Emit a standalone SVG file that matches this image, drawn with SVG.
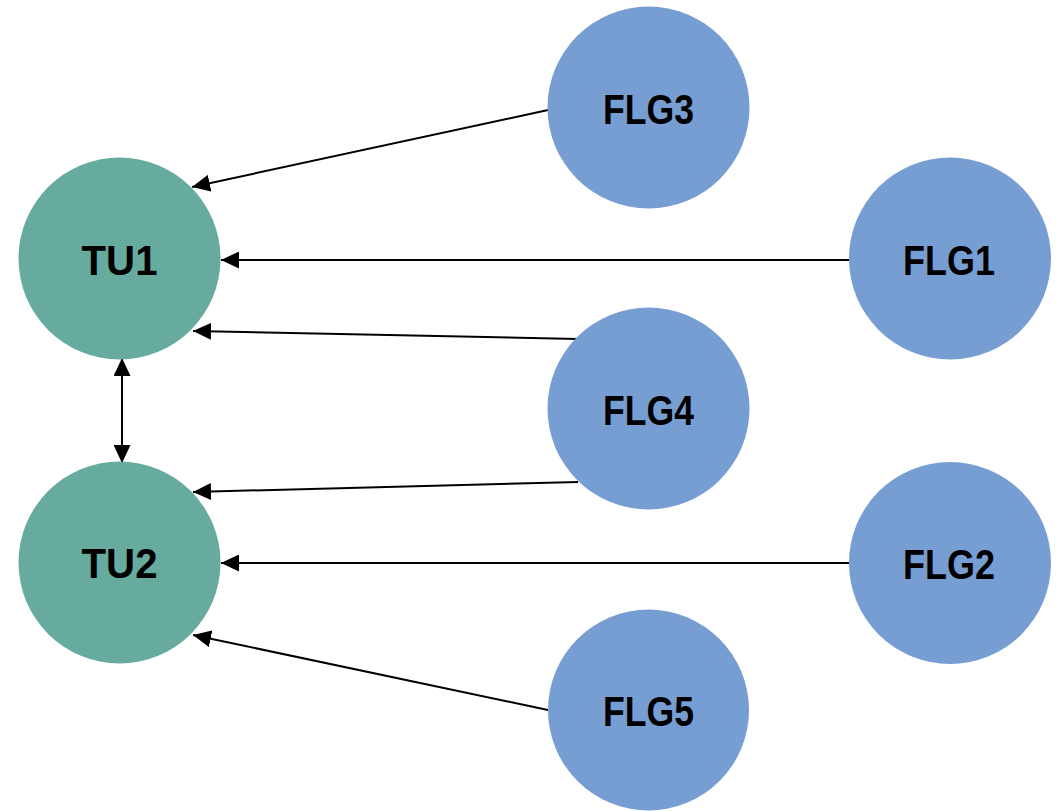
<svg xmlns="http://www.w3.org/2000/svg" width="1063" height="811" viewBox="0 0 1063 811">
<style>
.tu{fill:#67AB9F}
.flg{fill:#779ED3}
.lbl{font-family:"Liberation Sans",Arial,sans-serif;font-weight:bold;font-size:43px;fill:#000;text-anchor:middle}
.edge{stroke:#000;stroke-width:2;fill:none;marker-end:url(#arr)}
</style>
<defs>
<marker id="arr" markerUnits="userSpaceOnUse" markerWidth="18" markerHeight="17" viewBox="0 0 18 17" refX="18" refY="8.5" orient="auto-start-reverse">
<path d="M0,0 L18,8.5 L0,17 Z" fill="#000"/>
</marker>
</defs>
<rect width="1063" height="811" fill="#fff"/>
<g id="connectors">
<line class="edge" x1="548" y1="110" x2="192" y2="187"/>
<line class="edge" x1="849" y1="260" x2="221" y2="260"/>
<line class="edge" x1="578" y1="339" x2="193" y2="331"/>
<line class="edge" x1="578" y1="482" x2="193" y2="492"/>
<line class="edge" x1="849" y1="563" x2="221" y2="563"/>
<line class="edge" x1="548" y1="710" x2="193" y2="635"/>
<line class="edge" x1="122" y1="358" x2="122" y2="463" style="marker-start:url(#arr)"/>
</g>
<g id="TU1"><circle class="tu" cx="119.5" cy="258.5" r="101"/><text class="lbl" x="119.5" y="275" textLength="76" lengthAdjust="spacingAndGlyphs">TU1</text></g>
<g id="TU2"><circle class="tu" cx="119.5" cy="562.5" r="101"/><text class="lbl" x="119.5" y="578" textLength="76" lengthAdjust="spacingAndGlyphs">TU2</text></g>
<g id="FLG3"><circle class="flg" cx="648.5" cy="107.5" r="101"/><text class="lbl" x="648.5" y="124" textLength="91" lengthAdjust="spacingAndGlyphs">FLG3</text></g>
<g id="FLG1"><circle class="flg" cx="950" cy="258.5" r="101"/><text class="lbl" x="949" y="275" textLength="92" lengthAdjust="spacingAndGlyphs">FLG1</text></g>
<g id="FLG4"><circle class="flg" cx="648.5" cy="408.5" r="101"/><text class="lbl" x="648.5" y="425" textLength="91" lengthAdjust="spacingAndGlyphs">FLG4</text></g>
<g id="FLG2"><circle class="flg" cx="950" cy="563" r="101"/><text class="lbl" x="949" y="579" textLength="92" lengthAdjust="spacingAndGlyphs">FLG2</text></g>
<g id="FLG5"><circle class="flg" cx="648.5" cy="710" r="100.5"/><text class="lbl" x="648.5" y="726" textLength="91" lengthAdjust="spacingAndGlyphs">FLG5</text></g>
</svg>
